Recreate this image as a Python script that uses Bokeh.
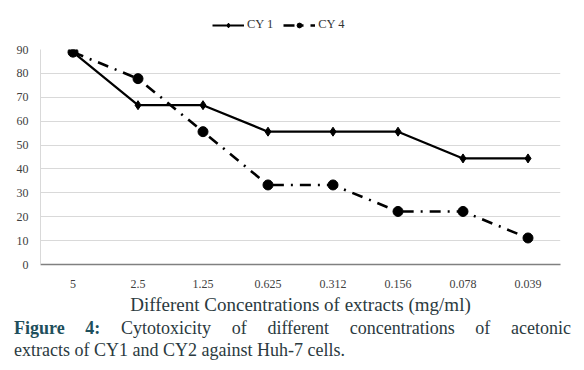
from bokeh.plotting import figure
from bokeh.layouts import column
from bokeh.models import Range1d, Legend, LegendItem, Div
from bokeh.embed import file_html
from bokeh.resources import INLINE

concentrations = ["5", "2.5", "1.25", "0.625", "0.312", "0.156", "0.078", "0.039"]
cy1 = [88.9, 66.7, 66.7, 55.6, 55.6, 55.6, 44.4, 44.4]
cy4 = [88.9, 77.8, 55.6, 33.3, 33.3, 22.2, 22.2, 11.1]
y_ticks = [0, 10, 20, 30, 40, 50, 60, 70, 80, 90]

x_title = "Different Concentrations of extracts (mg/ml)"
caption_bold = "Figure 4:"
caption_line1 = "Cytotoxicity of different concentrations of acetonic"
caption_line2 = "extracts of CY1 and CY2 against Huh-7 cells."

W = 584
TEXT_COL = "#2b3a40"

# ---- legend strip ----
top = figure(width=W, height=41, x_range=Range1d(0, 1), y_range=Range1d(0, 1),
             output_backend="svg", toolbar_location=None,
             x_axis_type=None, y_axis_type=None,
             min_border_left=40, min_border_right=24, min_border_top=0, min_border_bottom=0)
top.outline_line_color = None
top.grid.visible = False
off = [-5, -4]
l1 = top.line(off, off, line_color="black", line_width=2.2)
s1 = top.scatter(off, off, marker="diamond", size=9, color="black")
l4 = top.line(off, off, line_color="black", line_width=2.6, line_dash="11 7 2 7")
s4 = top.scatter(off, off, marker="circle", size=10, color="black")
legend = Legend(items=[LegendItem(label="CY 1", renderers=[l1, s1]),
                       LegendItem(label="CY 4", renderers=[l4, s4])],
                orientation="horizontal", location=(172, 9),
                label_text_font="Liberation Serif", label_text_font_size="12.5px",
                label_text_color="#333333", glyph_width=32, glyph_height=12,
                spacing=10, padding=2, margin=0, label_standoff=3,
                border_line_color=None, background_fill_alpha=0)
top.add_layout(legend)

# ---- main chart ----
p = figure(width=W, height=276, x_range=concentrations, y_range=Range1d(0, 90),
           output_backend="svg", toolbar_location=None,
           min_border_left=40, min_border_right=24, min_border_top=8, min_border_bottom=52)
p.outline_line_color = None

p.line(concentrations, cy1, line_color="black", line_width=2.2)
p.scatter(concentrations, cy1, marker="diamond", size=9, color="black")
p.line(concentrations, cy4, line_color="black", line_width=2.6, line_dash="11 7 2 7")
p.scatter(concentrations, cy4, marker="circle", size=10, color="black")

p.xgrid.grid_line_color = None
p.ygrid.grid_line_color = "#d9d9d9"
p.ygrid.grid_line_width = 1
p.yaxis.ticker = y_ticks
p.yaxis.axis_line_color = "#d9d9d9"
p.yaxis.major_tick_line_color = None
p.yaxis.minor_tick_line_color = None
p.yaxis.major_label_text_font = "Liberation Serif"
p.yaxis.major_label_text_font_size = "12px"
p.yaxis.major_label_text_color = "#404040"
p.yaxis.major_label_standoff = 6

p.xaxis.axis_line_color = "#808080"
p.xaxis.axis_line_width = 1.5
p.xaxis.major_tick_line_color = None
p.xaxis.minor_tick_line_color = None
p.xaxis.major_label_text_font = "Liberation Serif"
p.xaxis.major_label_text_font_size = "12px"
p.xaxis.major_label_text_color = "#404040"
p.xaxis.major_label_standoff = 9
p.xaxis.axis_label = x_title
p.xaxis.axis_label_text_font = "Liberation Serif"
p.xaxis.axis_label_text_font_size = "19px"
p.xaxis.axis_label_text_font_style = "normal"
p.xaxis.axis_label_text_color = TEXT_COL
p.xaxis.axis_label_standoff = 3

# ---- caption ----
caption_html = (
    "<div style=\"font-family:'Liberation Serif';font-size:18px;line-height:22px;"
    f"color:{TEXT_COL};width:557px;margin:0 0 0 14px;padding:0\">"
    "<div style=\"text-align:justify;text-align-last:justify\">"
    f"<b style=\"color:#1e4f5c\">{caption_bold}</b> {caption_line1}</div>"
    f"<div>{caption_line2}</div></div>"
)
cap = Div(text=caption_html, width=W, height=53, margin=0)

layout = column(top, p, cap, spacing=0)
open("out.html", "w").write(file_html(layout, INLINE))
